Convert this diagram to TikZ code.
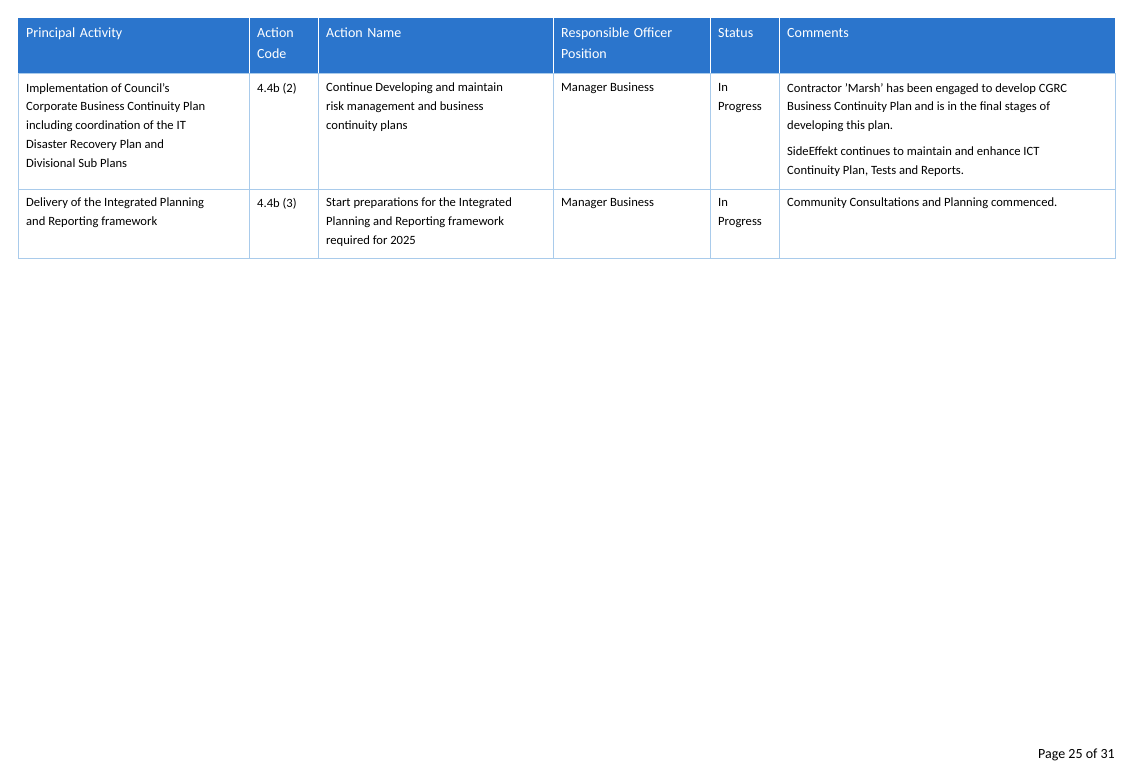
\documentclass[tikz,border=0pt]{standalone}
\usepackage{fontspec}
\setmainfont{Carlito}
\definecolor{hdr}{HTML}{2B75CC}
\definecolor{grid}{HTML}{A9CBEB}
\begin{document}
\begin{tikzpicture}[x=1pt,y=-1pt,
  hd/.style={anchor=north west,inner sep=0pt,align=left,text=white,font=\fontsize{14}{21}\selectfont},
  bd/.style={anchor=north west,inner sep=0pt,align=left,font=\fontsize{12.6}{18.8}\selectfont}]
\useasboundingbox[fill=white] (0,0) rectangle (1134,782);
\fill[hdr] (18,18) rectangle (1115,73);
\foreach \x in {249,318,553,710,779}{\draw[white,line width=0.6pt] (\x,18) -- (\x,73);
  \draw[grid,line width=0.8pt] (\x,73) -- (\x,258);}
\draw[grid,line width=0.8pt] (18,73) rectangle (1115,258);
\draw[grid,line width=0.8pt] (18,189) -- (1115,189);
\node[hd,text width=215pt] (h1) at (26,28) {Principal Activity};
\node[hd,text width=55pt] (h2) at (257,28) {Action\\Code};
\node[hd,text width=220pt] (h3) at (326,28) {Action Name};
\node[hd,text width=145pt] (h4) at (561,28) {Responsible Officer\\Position};
\node[hd,text width=55pt] (h5) at (718,28) {Status};
\node[hd,text width=320pt] (h6) at (787,28) {Comments};
\node[bd] (a1) at (26,83) {Implementation of Council's\\Corporate Business Continuity Plan\\including coordination of the IT\\Disaster Recovery Plan and\\Divisional Sub Plans};
\node[bd] (b1) at (257,83) {4.4b (2)};
\node[bd] (c1) at (326,83) {Continue Developing and maintain\\risk management and business\\continuity plans};
\node[bd] (d1) at (561,83) {Manager Business};
\node[bd] (e1) at (718,83) {In\\Progress};
\node[bd] (f1) at (787,83) {Contractor 'Marsh' has been engaged to develop CGRC\\Business Continuity Plan and is in the final stages of\\developing this plan.};
\node[bd] (f1b) at (787,147) {SideEffekt continues to maintain and enhance ICT\\Continuity Plan, Tests and Reports.};
\node[bd] (a2) at (26,198) {Delivery of the Integrated Planning\\and Reporting framework};
\node[bd] (b2) at (257,198) {4.4b (3)};
\node[bd] (c2) at (326,198) {Start preparations for the Integrated\\Planning and Reporting framework\\required for 2025};
\node[bd] (d2) at (561,198) {Manager Business};
\node[bd] (e2) at (718,198) {In\\Progress};
\node[bd] (f2) at (787,198) {Community Consultations and Planning commenced.};
\node[anchor=east,inner sep=0pt,font=\fontsize{14}{16}\selectfont] (pg) at (1115,755) {Page 25 of 31};
\end{tikzpicture}
\end{document}
